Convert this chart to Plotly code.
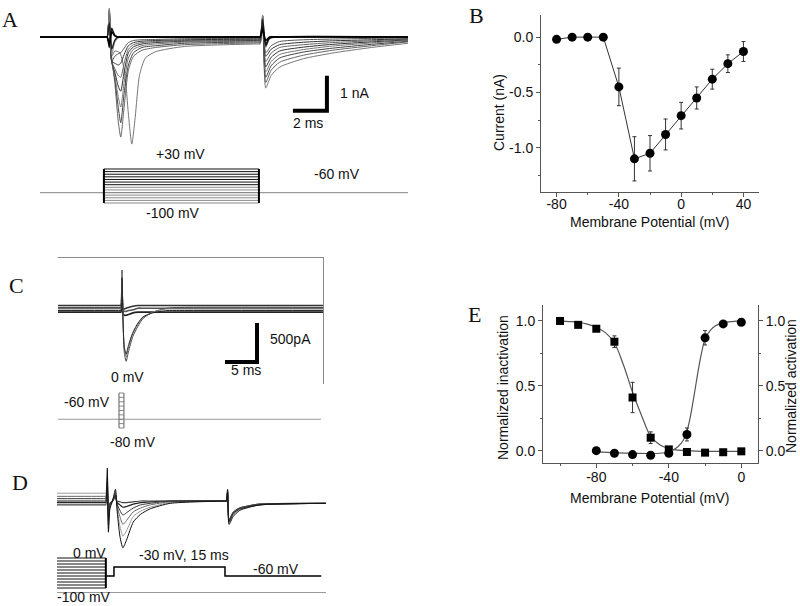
import plotly.graph_objects as go

W, H = 800, 606
SANS = "Liberation Sans, Arial, sans-serif"
SERIF = "Liberation Serif, Times New Roman, serif"
AX = "#555555"

# ================= DATA =================
# ---- Panel A : current traces (time ms, current nA) ----
A_T_LATE = [0, 3.85, 3.95, 4.08, 4.22, 4.4, 4.7, 5.0, 5.2, 5.4, 5.6, 5.85, 6.2, 6.8, 8.5, 12.8, 12.95,
            13.1, 13.28, 13.6, 14.1, 15.5, 17.2, 19.5, 21.65]
A_T_EARLY = [0, 3.85, 3.95, 4.08, 4.22, 4.4, 4.6, 4.75, 4.95, 5.2, 5.5, 6.0, 6.8, 8.5, 12.8, 12.95,
             13.1, 13.28, 13.6, 14.1, 15.5, 17.2, 19.5, 21.65]
A_T_BASE = [0, 3.85, 3.95, 4.08, 4.22, 4.4, 4.6, 5.0, 12.8, 12.95, 13.1, 13.28, 13.5, 13.9, 21.65]

A_I1 = [0, 0, 0, 0.55, -0.55, -0.4, -0.45, -1.1, -2.2, -3.06, -2.3, -1.1, -0.6, -0.42, -0.27, -0.2, -0.2,
        0.35, -1.46, -1.1, -0.86, -0.62, -0.46, -0.3, -0.18]
A_I2 = [0, 0, 0, 0.6, -0.6, -1.3, -2.4, -2.86, -2.0, -0.95, -0.55, -0.38, -0.3, -0.22, -0.17, -0.17, 0.4, -1.3, -0.95, -0.72, -0.52, -0.38, -0.25, -0.14]
A_I3 = [0, 0, 0, 0.65, -0.65, -1.2, -2.0, -2.45, -1.6, -0.8, -0.45, -0.3, -0.25, -0.18, -0.14, -0.14, 0.45, -1.15, -0.82, -0.6, -0.43, -0.32, -0.21, -0.12]
A_I4 = [0, 0, 0, 0.7, -0.7, -1.1, -1.7, -2.0, -1.3, -0.6, -0.35, -0.25, -0.2, -0.15, -0.12, -0.12, 0.5, -1.0, -0.7, -0.5, -0.36, -0.26, -0.17, -0.1]
A_I5 = [0, 0, 0, 0.72, -0.72, -1.0, -1.4, -1.55, -1.0, -0.45, -0.28, -0.2, -0.16, -0.12, -0.1, -0.1, 0.55, -0.85, -0.58, -0.4, -0.29, -0.21, -0.14, -0.08]
A_I6 = [0, 0, 0, 0.75, -0.7, -0.9, -1.1, -1.15, -0.75, -0.35, -0.22, -0.16, -0.13, -0.1, -0.08, -0.08, 0.55, -0.7, -0.46, -0.3, -0.22, -0.16, -0.11, -0.06]
A_I7 = [0, 0, 0, 0.78, -0.7, -0.75, -0.8, -0.75, -0.5, -0.25, -0.16, -0.12, -0.1, -0.08, -0.06, -0.06, 0.6, -0.55, -0.35, -0.22, -0.15, -0.11, -0.08, -0.05]
A_I8 = [0, 0, 0, 0.8, -0.7, -0.55, -0.48, -0.45, -0.32, -0.16, -0.1, -0.08, -0.07, -0.05, -0.04, -0.04, 0.6, -0.45, -0.25, -0.13, -0.08, -0.06, -0.04, -0.03]
A_I9 = [0, 0, 0, 0.83, -0.5, -0.15, -0.03, 0, 0, 0, 0.63, -0.3, -0.05, 0, 0]
A_I10 = [0, 0, 0, 0.4, -0.35, -0.1, 0, 0, 0, 0, 0.5, -0.25, -0.04, 0, 0]
A_I11 = [0, 0, 0, -0.3, 0.25, 0.05, 0, 0, 0, 0, 0.3, -0.2, -0.02, 0, 0]
A_I12 = [0, 0, 0, -0.2, 0.15, 0.03, 0, 0, 0, 0, 0.2, -0.1, 0, 0, 0]

# ---- Panel A : voltage protocol (mV) ----
A_LEVELS = [-100, -90, -80, -70, -60, -50, -40, -30, -20, -10, 0, 10, 20, 30]
A_HOLD = -60
A_STEP_ON, A_STEP_OFF, A_END = 3.76, 12.88, 21.65
A_SCALE_MS, A_SCALE_NA = 2, 1

# ---- Panel B : I-V relation ----
B_V = [-80, -70, -60, -50, -40, -30, -20, -10, 0, 10, 20, 30, 40]
B_I = [-0.02, 0.0, 0.0, 0.0, -0.45, -1.10, -1.05, -0.88, -0.71, -0.55, -0.38, -0.24, -0.13]
B_ERR = [0, 0, 0, 0, 0.17, 0.20, 0.16, 0.14, 0.12, 0.10, 0.09, 0.08, 0.09]
B_XTICKS = [-80, -40, 0, 40]
B_XTICKTEXT = ["-80", "-40", "0", "40"]
B_XMINOR = [-60, -20, 20]
B_YTICKS = [0, -0.5, -1.0]
B_YTICKTEXT = ["0.0", "-0.5", "-1.0"]
B_YMINOR = [-0.25, -0.75, -1.25]

# ---- Panel C : current traces ----
C_T = [0, 9.7, 9.85, 10.0, 10.15, 10.35, 10.65, 11.0, 11.7, 12.5, 13.3, 14.8, 17.0, 19.0, 41.4]
C_I1 = [0.02, 0.02, 0.02, 0.5, -0.1, -0.55, -0.67, -0.55, -0.35, -0.22, -0.12, -0.04, 0.01, 0.02, 0.02]
C_I2 = [0, 0, 0, 0.45, -0.1, -0.5, -0.62, -0.5, -0.32, -0.2, -0.11, -0.04, 0, 0, 0]
C_I3 = [-0.02, -0.02, -0.02, 0.4, -0.12, -0.48, -0.58, -0.47, -0.3, -0.18, -0.1, -0.05, -0.02, -0.02, -0.02]
C_I4 = [0.045, 0.045, 0.045, 0.3, 0.0, 0.0, 0.01, 0.02, 0.035, 0.045, 0.045, 0.045, 0.045, 0.045, 0.045]
C_I5 = [-0.04, -0.04, -0.04, 0.25, -0.05, -0.08, -0.08, -0.07, -0.05, -0.04, -0.04, -0.04, -0.04, -0.04, -0.04]
C_I6 = [0.01, 0.01, 0.01, 0.2, -0.02, -0.03, -0.03, -0.02, -0.01, 0.01, 0.01, 0.01, 0.01, 0.01, 0.01]
C_SCALE_MS, C_SCALE_NA = 5, 0.5

# ---- Panel C : protocol ----
C_LEVELS = [-80, -70, -60, -50, -40, -30, -20, -10, 0]
C_HOLD = -60
C_PULSE_ON, C_PULSE_OFF, C_END = 9.53, 10.3, 41.1

# ---- Panel D : current traces ----
D_T = [0, 6.45, 6.6, 6.8, 6.95, 7.15, 7.5, 7.9, 8.1, 8.5, 8.9, 9.4, 10.3, 11.3, 12.6, 15.3,
       22.75, 22.9, 23.05, 23.25, 23.8, 24.7, 27.4, 36.35]
D_I1 = [0.0, 0.0, 0.0, 0.42, -0.4, -0.1, 0.0, 0.15, -0.1, -0.45, -0.6, -0.5, -0.27, -0.17, -0.1, -0.03, 0.0, 0.0, 0.15, -0.3, -0.2, -0.12, -0.05, -0.03]
D_I2 = [0.1, 0.1, 0.1, 0.35, -0.35, -0.08, 0.0, 0.12, -0.08, -0.32, -0.45, -0.38, -0.2, -0.13, -0.08, -0.02, 0.0, 0.0, 0.14, -0.28, -0.18, -0.11, -0.05, -0.03]
D_I3 = [0.06, 0.06, 0.06, 0.3, -0.3, -0.06, 0, 0.1, -0.05, -0.2, -0.3, -0.25, -0.14, -0.09, -0.05, -0.01, 0, 0, 0.13, -0.27, -0.17, -0.1, -0.05, -0.03]
D_I4 = [0.03, 0.03, 0.03, 0.25, -0.25, -0.05, 0, 0.08, -0.03, -0.12, -0.18, -0.15, -0.09, -0.05, -0.03, 0, 0, 0, 0.12, -0.26, -0.16, -0.1, -0.05, -0.03]
D_I5 = [-0.02, -0.02, -0.02, 0.2, -0.2, -0.04, 0, 0.06, -0.02, -0.05, -0.08, -0.07, -0.04, -0.02, -0.01, 0, 0, 0, 0.12, -0.25, -0.15, -0.09, -0.04, -0.03]
D_I6 = [-0.05, -0.05, -0.05, 0.15, -0.15, -0.03, 0, 0.05, 0, -0.01, -0.02, -0.02, -0.01, 0, 0, 0, 0, 0, 0.12, -0.24, -0.15, -0.09, -0.04, -0.03]

# ---- Panel D : protocol ----
D_PRE_LEVELS = [-100, -90, -80, -70, -60, -50, -40, -30, -20, -10, 0]
D_PRE_END = 6.6
D_STEP_T = [6.6, 7.7, 7.7, 22.7, 22.7, 35.7]
D_STEP_V = [-60, -60, -30, -30, -60, -60]

# ---- Panel E : inactivation / activation ----
E_INACT_V = [-100, -90, -80, -70, -60, -50, -40, -30, -20, -10, 0]
E_INACT = [1.0, 0.97, 0.94, 0.84, 0.41, 0.10, 0.01, -0.01, -0.015, -0.012, -0.005]
E_INACT_ERR = [0, 0, 0, 0.045, 0.117, 0.045, 0, 0, 0, 0, 0]
E_ACT_V = [-80, -70, -60, -50, -40, -30, -20, -10, 0]
E_ACT = [0.0, -0.02, -0.03, -0.035, -0.02, 0.125, 0.87, 0.977, 0.99]
E_ACT_ERR = [0, 0, 0, 0, 0, 0.05, 0.055, 0, 0]
E_INACT_FIT_V = [-100, -95, -90, -85, -80, -75, -70, -65, -60, -55, -50, -45, -40, -35, -30, -20, -10, 0]
E_INACT_FIT = [0.998, 0.995, 0.99, 0.975, 0.95, 0.91, 0.83, 0.66, 0.45, 0.27, 0.11, 0.045, 0.015, 0.005, 0.0, -0.005, -0.005, -0.005]
E_ACT_FIT_V = [-80, -60, -45, -40, -37, -35, -32, -30, -28, -26, -24, -22, -20, -17, -14, -10, -5, 0]
E_ACT_FIT = [-0.01, -0.02, -0.02, -0.01, 0.01, 0.03, 0.08, 0.15, 0.27, 0.43, 0.6, 0.75, 0.86, 0.93, 0.965, 0.985, 0.995, 1.0]
E_XTICKS = [-80, -40, 0]
E_XTICKTEXT = ["-80", "-40", "0"]
E_XMINOR = [-100, -60, -20]
E_YTICKS = [0, 0.5, 1.0]
E_YTICKTEXT = ["0.0", "0.5", "1.0"]
E_YMINOR = [0.25, 0.75]

# ================= FIGURE =================
fig = go.Figure()


def line(x, y, xa, ya, color, width=1.0, shape="linear", smoothing=0.6):
    fig.add_trace(go.Scatter(x=x, y=y, xaxis=xa, yaxis=ya, mode="lines",
                             line=dict(color=color, width=width, shape=shape, smoothing=smoothing),
                             hoverinfo="skip", showlegend=False))


# Panel A currents
A_SET = [
    (A_T_LATE, A_I1, "#777777", 1.0),
    (A_T_EARLY, A_I2, "#666666", 1.0),
    (A_T_EARLY, A_I3, "#444444", 1.0),
    (A_T_EARLY, A_I4, "#777777", 1.0),
    (A_T_EARLY, A_I5, "#333333", 1.0),
    (A_T_EARLY, A_I6, "#666666", 1.0),
    (A_T_EARLY, A_I7, "#333333", 1.0),
    (A_T_EARLY, A_I8, "#555555", 1.0),
    (A_T_BASE, A_I9, "#888888", 1.0),
    (A_T_BASE, A_I10, "#222222", 1.4),
    (A_T_BASE, A_I11, "#111111", 1.4),
    (A_T_BASE, A_I12, "#000000", 1.6),
]
for t, i, c, w in A_SET:
    line(t, i, "x", "y", c, w, "spline")

# Panel A scale bar (2 ms, 1 nA)
A_BAR_T, A_BAR_I = 16.88, -2.11
line([A_BAR_T - A_SCALE_MS, A_BAR_T, A_BAR_T], [A_BAR_I, A_BAR_I, A_BAR_I + A_SCALE_NA],
     "x", "y", "#000000", 4)

# Panel A protocol
line([0, A_END], [A_HOLD, A_HOLD], "x2", "y2", "#9a9a9a", 1.2)
for v in A_LEVELS:
    line([A_STEP_ON, A_STEP_OFF], [v, v], "x2", "y2", "#111111" if v >= -30 else "#8a8a8a", 1.0)
for tt in (A_STEP_ON, A_STEP_OFF):
    line([tt, tt], [min(A_LEVELS), max(A_LEVELS)], "x2", "y2", "#000000", 2)

# Panel B
fig.add_trace(go.Scatter(x=B_V, y=B_I, xaxis="x3", yaxis="y3", mode="lines+markers",
                         line=dict(color="#333333", width=1),
                         marker=dict(symbol="circle", size=9, color="#000000"),
                         error_y=dict(type="data", array=B_ERR, color="#333333", thickness=1, width=2),
                         showlegend=False, hoverinfo="skip"))

# Panel C currents
C_SET = [
    (C_I4, "#333333", 1.6), (C_I5, "#222222", 1.6), (C_I6, "#555555", 1.6),
    (C_I1, "#444444", 1.0), (C_I2, "#888888", 1.0), (C_I3, "#222222", 1.0),
]
for i, c, w in C_SET:
    line(C_T, i, "x4", "y4", c, w, "spline")
C_BAR_T, C_BAR_I = 31.1, -0.679
line([C_BAR_T - C_SCALE_MS, C_BAR_T, C_BAR_T], [C_BAR_I, C_BAR_I, C_BAR_I + C_SCALE_NA],
     "x4", "y4", "#000000", 4)

# Panel C protocol
line([0, C_END], [C_HOLD, C_HOLD], "x5", "y5", "#9a9a9a", 1.2)
for v in C_LEVELS:
    line([C_PULSE_ON, C_PULSE_OFF], [v, v], "x5", "y5", "#8a8a8a", 1.0)
for tt in (C_PULSE_ON, C_PULSE_OFF):
    line([tt, tt], [min(C_LEVELS), max(C_LEVELS)], "x5", "y5", "#777777", 1.2)

# Panel D currents
D_SET = [
    (D_I2, "#999999", 1.0), (D_I3, "#666666", 1.0), (D_I4, "#333333", 1.0),
    (D_I5, "#222222", 1.2), (D_I6, "#444444", 1.2), (D_I1, "#111111", 1.0),
]
for i, c, w in D_SET:
    line(D_T, i, "x6", "y6", c, w, "spline")

# Panel D protocol
for v in D_PRE_LEVELS:
    line([0, D_PRE_END], [v, v], "x7", "y7", "#111111", 1.0)
line([D_PRE_END, D_PRE_END], [min(D_PRE_LEVELS), max(D_PRE_LEVELS)], "x7", "y7", "#000000", 2)
line(D_STEP_T, D_STEP_V, "x7", "y7", "#000000", 1.5)

# Panel E (inactivation on left axis, activation on right axis)
line(E_INACT_FIT_V, E_INACT_FIT, "x8", "y8", "#555555", 1.2, "spline", 1.0)
line(E_ACT_FIT_V, E_ACT_FIT, "x8", "y9", "#555555", 1.2, "spline", 1.0)
fig.add_trace(go.Scatter(x=E_INACT_V, y=E_INACT, xaxis="x8", yaxis="y8", mode="markers",
                         marker=dict(symbol="square", size=8, color="#000000"),
                         error_y=dict(type="data", array=E_INACT_ERR, color="#333333", thickness=1, width=2),
                         showlegend=False, hoverinfo="skip"))
fig.add_trace(go.Scatter(x=E_ACT_V, y=E_ACT, xaxis="x8", yaxis="y9", mode="markers",
                         marker=dict(symbol="circle", size=9, color="#000000"),
                         error_y=dict(type="data", array=E_ACT_ERR, color="#333333", thickness=1, width=2),
                         showlegend=False, hoverinfo="skip"))


# ================= LAYOUT =================
def dx(a, b):
    return [a / W, b / W]


def dy(top, bottom):
    return [1 - bottom / H, 1 - top / H]


hidden = dict(visible=False, showgrid=False, zeroline=False, fixedrange=True)
tickfont = dict(family=SANS, size=14, color="#111111")


def data_axis(**kw):
    d = dict(showline=True, linecolor=AX, linewidth=1, ticks="outside", ticklen=4, tickwidth=1,
             tickcolor=AX, showgrid=False, zeroline=False, tickfont=tickfont, tickmode="array")
    d.update(kw)
    return d


minor_kw = dict(ticks="outside", ticklen=2, tickcolor=AX)

layout = dict(
    width=W, height=H, margin=dict(l=0, r=0, t=0, b=0),
    paper_bgcolor="white", plot_bgcolor="rgba(0,0,0,0)", showlegend=False,
    font=dict(family=SANS, size=14, color="#111111"),
    # A currents
    xaxis=dict(hidden, domain=dx(40, 408), range=[0, 21.65], anchor="y"),
    yaxis=dict(hidden, domain=dy(3, 150), range=[-3.229, 0.971], anchor="x"),
    # A protocol
    xaxis2=dict(hidden, domain=dx(40, 408), range=[0, 21.65], anchor="y2"),
    yaxis2=dict(hidden, domain=dy(150, 225), range=[-184.1, 102.6], anchor="x2"),
    # B
    xaxis3=data_axis(domain=dx(541, 759), range=[-90, 50], anchor="y3",
                     tickvals=B_XTICKS, ticktext=B_XTICKTEXT, ticklabelstandoff=-5,
                     minor=dict(minor_kw, tickvals=B_XMINOR)),
    yaxis3=data_axis(domain=dy(15, 192), range=[-1.4, 0.2], anchor="x3",
                     tickvals=B_YTICKS, ticktext=B_YTICKTEXT,
                     minor=dict(minor_kw, tickvals=B_YMINOR)),
    # C currents (frame: top + right)
    xaxis4=dict(domain=dx(58, 323), range=[0, 41.41], anchor="y4", side="top", showline=True,
                linecolor="#8a8a8a", linewidth=1, ticks="", showticklabels=False,
                showgrid=False, zeroline=False),
    yaxis4=dict(domain=dy(258, 384), range=[-0.9615, 0.6538], anchor="x4", side="right",
                showline=True, linecolor="#8a8a8a", linewidth=1, ticks="", showticklabels=False,
                showgrid=False, zeroline=False),
    # C protocol
    xaxis5=dict(hidden, domain=dx(58, 323), range=[0, 41.41], anchor="y5"),
    yaxis5=dict(hidden, domain=dy(386, 450), range=[-130.3, 16.0], anchor="x5"),
    # D currents
    xaxis6=dict(hidden, domain=dx(57, 326), range=[0, 36.35], anchor="y6"),
    yaxis6=dict(hidden, domain=dy(455, 552), range=[-0.654, 0.590], anchor="x6"),
    # D protocol (gray bottom line)
    xaxis7=dict(domain=dx(57, 326), range=[0, 36.35], anchor="y7", showline=True,
                linecolor="#9a9a9a", linewidth=1.2, ticks="", showticklabels=False,
                showgrid=False, zeroline=False),
    yaxis7=dict(hidden, domain=dy(556, 592), range=[-113.3, 6.67], anchor="x7"),
    # E
    xaxis8=data_axis(domain=dx(543, 758), range=[-109.4, 9.2], anchor="y8",
                     tickvals=E_XTICKS, ticktext=E_XTICKTEXT, ticklabelstandoff=-3,
                     minor=dict(minor_kw, tickvals=E_XMINOR)),
    yaxis8=data_axis(domain=dy(305, 463), range=[-0.095, 1.123], anchor="x8",
                     tickvals=E_YTICKS, ticktext=E_YTICKTEXT,
                     minor=dict(minor_kw, tickvals=E_YMINOR)),
    yaxis9=data_axis(domain=dy(305, 463), range=[-0.095, 1.123], anchor="x8", overlaying="y8",
                     side="right", tickvals=E_YTICKS, ticktext=E_YTICKTEXT,
                     minor=dict(minor_kw, tickvals=E_YMINOR)),
)


def ann(text, x, y, size=14, family=SANS, angle=0, xanchor="center"):
    return dict(text=text, x=x / W, y=1 - y / H, xref="paper", yref="paper", showarrow=False,
                font=dict(family=family, size=size, color="#111111"), textangle=angle,
                xanchor=xanchor, yanchor="middle")


annotations = [
    ann("A", 10, 20, 22, SERIF), ann("B", 476, 16, 22, SERIF), ann("C", 16, 285, 22, SERIF),
    ann("D", 20, 482, 22, SERIF), ann("E", 474, 314, 22, SERIF),
    # A
    ann("1 nA", 354, 93), ann("2 ms", 308, 123),
    ann("+30 mV", 180, 154), ann("-60 mV", 337, 174), ann("-100 mV", 173, 213),
    # B titles
    ann("Current (nA)", 499, 113, 14, SANS, -90),
    ann("Membrane Potential (mV)", 650, 222),
    # C
    ann("500pA", 290, 339), ann("5 ms", 246, 370), ann("0 mV", 127, 377),
    ann("-60 mV", 87, 402), ann("-80 mV", 133, 442),
    # D
    ann("0 mV", 89, 553), ann("-30 mV, 15 ms", 184, 555), ann("-60 mV", 276, 569),
    ann("-100 mV", 84, 597),
    # E titles
    ann("Normalized inactivation", 503, 388, 14, SANS, -90),
    ann("Normalized activation", 791, 386, 14, SANS, -90),
    ann("Membrane Potential (mV)", 650, 498),
]
layout["annotations"] = annotations

fig.update_layout(**layout)
fig.write_html("out.html", config={"displayModeBar": False},
               post_script="document.body.style.margin='0px';")
